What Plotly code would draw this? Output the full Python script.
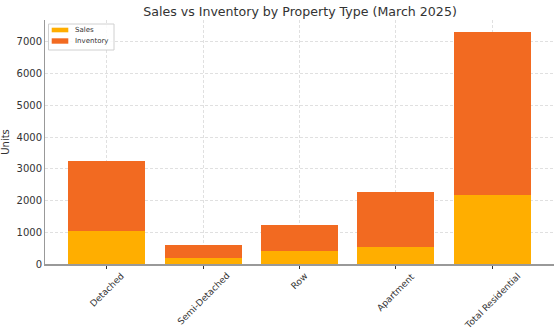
import plotly.graph_objects as go

categories = ["Detached", "Semi-Detached", "Row", "Apartment", "Total Residential"]
sales = [1030, 180, 400, 540, 2160]
inventory = [2210, 420, 820, 1720, 5160]
series_names = ["Sales", "Inventory"]
colors = ["#FFAE00", "#F26A21"]

fig = go.Figure()
fig.add_trace(go.Bar(x=categories, y=sales, name=series_names[0], marker=dict(color=colors[0], line=dict(width=0)), width=0.8))
fig.add_trace(go.Bar(x=categories, y=inventory, name=series_names[1], marker=dict(color=colors[1], line=dict(width=0)), width=0.8))

# plot area in pixels: x 45..554, y 20..264
L, R, T, B = 45, 554, 20, 264
def px(X): return (X - L) / (R - L)
def py(Y): return (B - Y) / (B - T)

shapes = [
    dict(type="rect", xref="paper", yref="paper", x0=px(48.5), x1=px(114), y0=py(50), y1=py(24),
         line=dict(color="#d0d0d0", width=1), fillcolor="rgba(255,255,255,0.85)", layer="above"),
]
annotations = []
sw_y = [(27.7, 32.3), (38.3, 43.7)]
for i, name in enumerate(series_names):
    y0, y1 = sw_y[i]
    shapes.append(dict(type="rect", xref="paper", yref="paper", x0=px(51.7), x1=px(68.3), y0=py(y1), y1=py(y0),
                       line=dict(width=0), fillcolor=colors[i], layer="above"))
    annotations.append(dict(text=name, xref="paper", yref="paper", x=px(73), y=py((y0 + y1) / 2),
                            xanchor="left", yanchor="middle", showarrow=False,
                            font=dict(size=7, color="#333333")))

for c in categories:
    annotations.append(dict(text=c, xref="x", yref="paper", x=c, y=0, yshift=-4,
                            xanchor="center", yanchor="top", textangle=-45, showarrow=False,
                            font=dict(size=9, color="#333333")))

fig.update_layout(
    barmode="stack",
    width=560, height=333,
    margin=dict(l=L, r=560 - R, t=T, b=333 - B),
    paper_bgcolor="white", plot_bgcolor="white",
    font=dict(family="DejaVu Sans", size=10, color="#333333"),
    title=dict(text="Sales vs Inventory by Property Type (March 2025)", x=300 / 560, xanchor="center", y=0.965, yanchor="middle",
               font=dict(size=12.6, color="#333333")),
    showlegend=False,
    shapes=shapes,
    annotations=annotations,
)
fig.update_xaxes(range=[-0.64, 4.64], showgrid=True, gridcolor="#e0e0e0", griddash="3px,2px", gridwidth=1,
                 showticklabels=False, ticks="outside", ticklen=3, tickcolor="#333333", automargin=False,
                 showline=True, linecolor="#999999", linewidth=2)
fig.update_yaxes(range=[0, 7690], dtick=1000, showgrid=True, gridcolor="#e0e0e0", griddash="3px,2px", gridwidth=1,
                 showline=True, linecolor="#999999", linewidth=1, ticks="", zeroline=False, automargin=False,
                 title=dict(text="Units", font=dict(size=10), standoff=6), tickfont=dict(size=10))

fig.write_html("out.html")
